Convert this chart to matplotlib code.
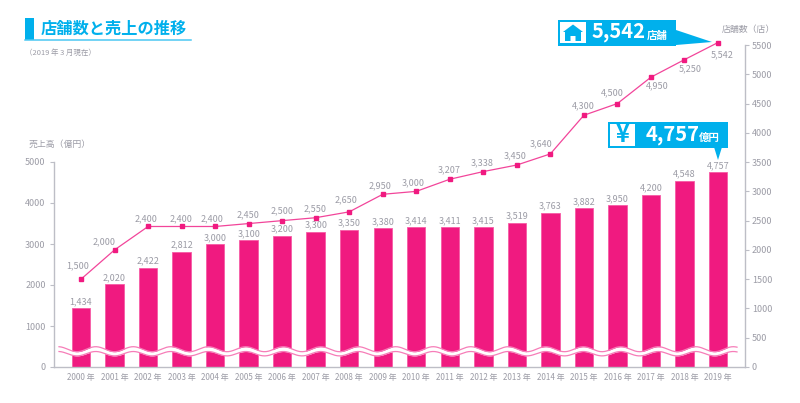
import matplotlib
matplotlib.use('Agg')
import matplotlib.pyplot as plt
import numpy as np
from matplotlib.patches import Rectangle, Polygon

plt.rcParams['font.family'] = ['Noto Sans CJK JP', 'DejaVu Sans']

years = [str(y) + ' 年' for y in range(2000, 2020)]
sales = [1434, 2020, 2422, 2812, 3000, 3100, 3200, 3300, 3350, 3380, 3414, 3411, 3415, 3519, 3763, 3882, 3950, 4200, 4548, 4757]
stores = [1500, 2000, 2400, 2400, 2400, 2450, 2500, 2550, 2650, 2950, 3000, 3207, 3338, 3450, 3640, 4300, 4500, 4950, 5250, 5542]
sales_ticks = [0, 1000, 2000, 3000, 4000, 5000]
stores_ticks = list(range(0, 6000, 500))

# label nudges for the store line, in pixels
label_dx = [-3, -10, -2, -1, -3, -1, 0, -1, -3, -3, -3, -0.5, -1, -2, -9, -1, -5, 6, 6, 4]
label_dy = [13, 8, 8, 8, 8, 9, 10, 9, 12, 8, 9, 9, 9, 9, 10, 9, 10.5, -8.5, -9, -12]

PINK = '#F01A80'
LINE = '#F2459A'
BLUE = '#00B0EC'
GRAY = '#9C9CA6'
AXC = '#BDBEC6'
W, H = 800, 403
PX = 0.72

fig = plt.figure(figsize=(8, 4.03), dpi=100, facecolor='white')
ax = fig.add_axes([54/W, 1-367/H, (745-54)/W, 205/H])
ax2 = fig.add_axes([54/W, 1-367/H, (745-54)/W, 322/H], sharex=ax)
x = np.arange(len(years))
ax.bar(x, sales, width=0.55, color=PINK, edgecolor='#F65BA5', linewidth=0.6, zorder=2)
ax.set_xlim(-0.806, 19.806)
ax.set_ylim(0, 5000)
ax2.set_ylim(0, 5500)
ax.set_xticks(x, years)
ax.set_yticks(sales_ticks)
ax2.yaxis.tick_right()
ax2.set_yticks(stores_ticks)
ax2.tick_params(axis='x', which='both', bottom=False, labelbottom=False)
ax.tick_params(axis='x', length=0, labelsize=5.8, labelcolor=GRAY, pad=4.5)
ax.tick_params(axis='y', length=3, width=0.8, color=AXC, labelsize=6.5, labelcolor=GRAY, pad=3)
ax2.tick_params(axis='y', length=3, width=0.8, color=AXC, labelsize=6.5, labelcolor=GRAY, pad=2)
for a in (ax, ax2):
    a.spines['top'].set_visible(False)
    for s in ('left', 'right', 'bottom'):
        a.spines[s].set_color(AXC)
        a.spines[s].set_linewidth(1)
ax.spines['right'].set_visible(False)
ax2.spines['left'].set_visible(False)
ax2.spines['bottom'].set_visible(False)
ax.set_zorder(1)
ax2.set_zorder(2)
ax2.patch.set_visible(False)
ax.patch.set_visible(False)

for i, v in enumerate(sales):
    ax.annotate(f'{v:,}', (i, v), xytext=(0, 6.5*PX), textcoords='offset points',
                ha='center', va='center', fontsize=6.5, color=GRAY, annotation_clip=False)

ax2.plot(x, stores, color=LINE, lw=0.9, marker='s', ms=2.6, mfc=PINK, mec=PINK, zorder=3, clip_on=False)
for i, v in enumerate(stores):
    ax2.annotate(f'{v:,}', (i, v), xytext=(label_dx[i]*PX, label_dy[i]*PX), textcoords='offset points',
                 ha='center', va='center', fontsize=6.5, color=GRAY, annotation_clip=False)

# overlay in pixel coordinates for decoration
ov = fig.add_axes([0, 0, 1, 1], zorder=1.5)
ov.set_xlim(0, W)
ov.set_ylim(H, 0)
ov.axis('off')
ov.patch.set_visible(False)

# wave break
wx = np.linspace(59, 737, 600)
phase = np.sin(2*np.pi*(wx-77)/37.5 + np.pi/2)
top = 349.2 + 2.5*phase
bot = 353.7 + 2.2*phase
ov.fill_between(wx, top, bot, color='white', lw=0)
ov.plot(wx, top, color='#F67DB8', lw=0.9)
ov.plot(wx, bot, color='#F67DB8', lw=0.9)

# title
ov.add_patch(Rectangle((25, 18), 9, 22, color=BLUE, lw=0))
ov.plot([25, 191], [40, 40], color='#4CC8F2', lw=1.1)
ov.text(40.5, 29, '店舗数と売上の推移', fontsize=11.7, fontweight='bold', color=BLUE, ha='left', va='center')
ov.text(25, 52.5, '（2019 年 3 月現在）', fontsize=5.4, color=GRAY, ha='left', va='center')
ov.text(28.5, 144.5, '売上高（億円）', fontsize=6.4, color=GRAY, ha='left', va='center')
ov.text(722, 29.5, '店舗数（店）', fontsize=6.4, color=GRAY, ha='left', va='center')

# store callout
ov.add_patch(Polygon([(676, 30), (712, 42), (676, 45)], color=BLUE, lw=0))
ov.add_patch(Rectangle((558, 19.5), 118, 26, color=BLUE, lw=0))
ov.add_patch(Rectangle((560, 22), 26, 21, color='white', lw=0))
ov.add_patch(Polygon([(563, 32), (573, 24.5), (583, 32), (581, 32), (581, 41), (575.5, 41), (575.5, 36), (570.5, 36), (570.5, 41), (565, 41), (565, 32)], color=BLUE, lw=0))
ov.text(592, 32, '5,542', fontsize=14.5, fontweight='bold', color='white', ha='left', va='center')
ov.text(647, 36, '店舗', fontsize=7.5, fontweight='bold', color='white', ha='left', va='center')

# sales callout
ov.add_patch(Polygon([(714, 147), (722, 147), (718, 160)], color=BLUE, lw=0))
ov.add_patch(Rectangle((608, 122), 120, 26, color=BLUE, lw=0))
ov.add_patch(Rectangle((610, 124), 25, 22, color='white', lw=0))
ov.text(622.5, 134.5, '¥', fontsize=17, fontweight='bold', color=BLUE, ha='center', va='center')
ov.text(645.5, 134.5, '4,757', fontsize=14.5, fontweight='bold', color='white', ha='left', va='center')
ov.text(699, 138, '億円', fontsize=7.5, fontweight='bold', color='white', ha='left', va='center')

fig.savefig('out.png', dpi=100, facecolor='white')
